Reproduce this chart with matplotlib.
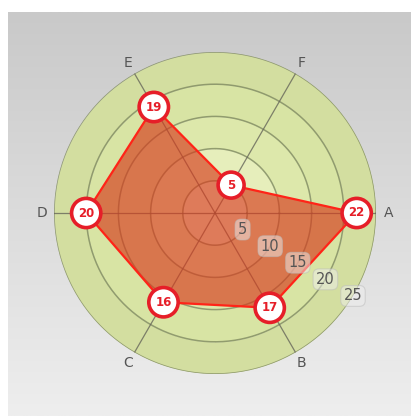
import numpy as np
import matplotlib
matplotlib.use('Agg')
import matplotlib.pyplot as plt

# data
categories = ['A', 'B', 'C', 'D', 'E', 'F']
values = [22, 17, 16, 20, 19, 5]
ring_ticks = [5, 10, 15, 20, 25]
band_colors = ['#f0f4d2', '#e6eebb', '#dde8ab', '#d8e4a4', '#d3dea0']

fig = plt.figure(figsize=(4.11, 4.16), dpi=100)
fig.patch.set_facecolor('white')

# gray gradient panel behind the chart
bg = fig.add_axes([8 / 411, 0, 1 - 8 / 411, 1 - 12 / 416])
grad = np.linspace(0, 1, 256).reshape(-1, 1)
bg.imshow(grad, aspect='auto', cmap=matplotlib.colors.LinearSegmentedColormap.from_list(
    'g', ['#c9c9c9', '#eeeeee']), extent=[0, 1, 0, 1], origin='upper')
bg.set_axis_off()

cx, cy, R = 215, 213, 161
ax = fig.add_axes([(cx - R) / 411, (416 - cy - R) / 416, 2 * R / 411, 2 * R / 416],
                  projection='polar')
ax.patch.set_alpha(0)
ax.set_theta_offset(0)
ax.set_theta_direction(-1)
ax.set_ylim(0, 25)
ax.grid(False)
ax.spines['polar'].set_visible(False)
ax.set_xticks([])
ax.set_yticks([])

t = np.linspace(0, 2 * np.pi, 400)
prev = 0
for r, c in zip(ring_ticks, band_colors):
    ax.fill_between(t, prev, r, color=c, lw=0, zorder=1)
    ax.plot(t, np.full_like(t, r), color='#7f8a60', lw=1.1, alpha=0.8, zorder=2)
    prev = r

angles = np.deg2rad(np.arange(len(categories)) * 60)
for a, lab in zip(angles, categories):
    ax.plot([a, a], [0, 25], color='#66665a', lw=0.9, alpha=0.8, zorder=2)
    ax.text(a, 26.9, lab, ha='center', va='center', fontsize=10, color='#555555')

# series polygon
th = np.append(angles, angles[0])
vv = values + values[:1]
ax.fill(th, vv, color='#d63c1c', alpha=0.66, lw=0, zorder=3)
ax.plot(th, vv, color='#ff2418', lw=1.6, zorder=4)

for a, v in zip(angles, values):
    ax.text(a, v, str(v), ha='center', va='center', fontsize=8.5, fontweight='bold',
            color='#e61e28', zorder=6,
            bbox=dict(boxstyle='circle,pad=0.55', fc='white', ec='#e61e28', lw=2.6))

# radial tick labels
lab_ang = np.deg2rad(31)
for r in ring_ticks:
    ax.text(lab_ang, r, str(r), ha='center', va='center', fontsize=10.5, color='#555555',
            zorder=5,
            bbox=dict(boxstyle='round,pad=0.2,rounding_size=0.4', fc='#eeeeee', ec='#bbbbbb',
                      lw=0.8, alpha=0.5))

fig.savefig('out.png', dpi=100)
